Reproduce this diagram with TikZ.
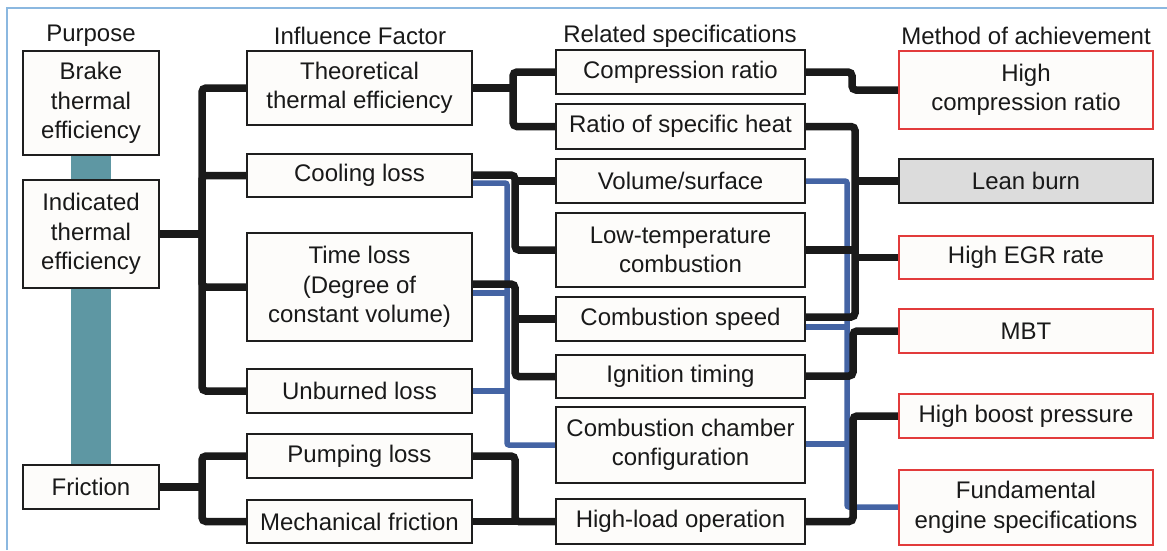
\documentclass[tikz,border=0pt]{standalone}
\usepackage{fontspec}
\setmainfont{Liberation Sans}
\usetikzlibrary{calc}
\definecolor{boxfill}{HTML}{FDFCFA}
\definecolor{boxdraw}{HTML}{1E1E1E}
\definecolor{redb}{HTML}{E23B3B}
\definecolor{leanfill}{HTML}{DCDCDC}
\definecolor{bluel}{HTML}{4464A4}
\definecolor{tealb}{HTML}{5E97A3}
\definecolor{framec}{HTML}{8BB8E0}
\definecolor{blkl}{HTML}{1A1A1A}
\pgfdeclarelayer{bg}
\pgfsetlayers{bg,main}
\tikzset{
  txt/.style={font=\fontsize{24}{29.5}\selectfont, text=black!90},
  box/.style={txt, draw=boxdraw, line width=1.8pt, fill=boxfill, inner sep=0pt, align=center},
  redbox/.style={box, draw=redb},
  c1/.style={box, minimum width=136},
  c2/.style={box, minimum width=225},
  c3/.style={box, minimum width=249},
  c4/.style={redbox, minimum width=254},
  hdr/.style={txt, inner sep=0pt},
  blk/.style={draw=blkl, line width=7.5pt, rounded corners=4pt},
  blu/.style={draw=bluel, line width=5.5pt, rounded corners=2pt},
}
\begin{document}
\begin{tikzpicture}[x=1pt,y=-1pt]
\useasboundingbox (0,0) rectangle (1167,550);
% headers
\node[hdr] (hpur) at (91,36) {Purpose};
\node[hdr] (hinf) at (360,36) {Influence Factor};
\node[hdr] (hrel) at (680,36) {Related specifications};
\node[hdr] (hmet) at (1026,36) {Method of achievement};
% column 1
\node[c1, minimum height=104] (brake) at (91,103) {Brake\\thermal\\efficiency};
\node[c1, minimum height=108] (ind) at (91,234) {Indicated\\thermal\\efficiency};
\node[c1, minimum height=44] (fric) at (91,487) {Friction};
% column 2
\node[c2, minimum height=74] (theo) at (359.5,88) {Theoretical\\thermal efficiency};
\node[c2, minimum height=43] (cool) at (359.5,175.5) {Cooling loss};
\node[c2, minimum height=108] (time) at (359.5,287) {Time loss\\(Degree of\\constant volume)};
\node[c2, minimum height=44] (unb) at (359.5,391) {Unburned loss};
\node[c2, minimum height=44] (pump) at (359.5,456) {Pumping loss};
\node[c2, minimum height=43] (mech) at (359.5,521.5) {Mechanical friction};
% column 3
\node[c3, minimum height=44] (comp) at (680.5,72) {Compression ratio};
\node[c3, minimum height=45] (ratio) at (680.5,126.5) {Ratio of specific heat};
\node[c3, minimum height=44] (vol) at (680.5,181) {Volume/surface};
\node[c3, minimum height=74] (low) at (680.5,250) {Low-temperature\\combustion};
\node[c3, minimum height=44] (speed) at (680.5,319) {Combustion speed};
\node[c3, minimum height=43] (ign) at (680.5,376.5) {Ignition timing};
\node[c3, minimum height=76] (cham) at (680.5,445) {Combustion chamber\\configuration};
\node[c3, minimum height=45] (high) at (680.5,521.5) {High-load operation};
% column 4
\node[c4, minimum height=78] (hcr) at (1026,90) {High\\compression ratio};
\node[box, fill=leanfill, minimum width=254, minimum height=44] (lean) at (1026,181) {Lean burn};
\node[c4, minimum height=43] (egr) at (1026,257.5) {High EGR rate};
\node[c4, minimum height=44] (mbt) at (1026,331) {MBT};
\node[c4, minimum height=44] (boost) at (1026,416) {High boost pressure};
\node[c4, minimum height=75] (fund) at (1026,507.5) {Fundamental\\engine specifications};
% junction coordinates
\coordinate (j1) at (202,234);
\coordinate (j2) at (202,487);
\coordinate (j3) at (513,88);
\coordinate (j4) at (515,175);
\coordinate (j4b) at (515,181);
\coordinate (j5) at (515,284);
\coordinate (j5b) at (515,319);
\coordinate (j6) at (515,456);
\coordinate (b1) at (507,183);
\coordinate (b2) at (507,293);
\coordinate (b3) at (507,391);
\coordinate (k1) at (852,72);
\coordinate (k2) at (855,126.5);
\coordinate (k2b) at (855,317);
\coordinate (k2c) at (855,181);
\coordinate (k2d) at (855,250);
\coordinate (k2e) at (855,257.5);
\coordinate (k3) at (853,376);
\coordinate (k4) at (853,521.5);
\coordinate (m1) at (847,181);
\coordinate (m2) at (847,507);
\coordinate (m3) at (847,327);
\coordinate (m4) at (847,444);
\begin{pgfonlayer}{bg}
% frame
\draw[framec, line width=2pt] (7,550) -- (7,8) -- (1167,8);
% teal bar
\fill[tealb] (71,150) rectangle (111,470);
% blue connectors
\draw[blu] (cool.east |- b1) -- (b1) |- (cham.west);
\draw[blu] (time.east |- b2) -- (b2);
\draw[blu] (unb.east) -- (b3);
\draw[blu] (vol.east) -- (m1) -- (m2) -- (fund.west |- m2);
\draw[blu] (speed.east |- m3) -- (m3);
\draw[blu] (cham.east |- m4) -- (m4);
% black connectors
\draw[blk] (ind.east) -- (j1);
\draw[blk] (j1) |- (theo.west);
\draw[blk] (j1) |- (cool.west);
\draw[blk] (j1) |- (time.west);
\draw[blk] (j1) |- (unb.west);
\draw[blk] (fric.east) -- (j2);
\draw[blk] (j2) |- (pump.west);
\draw[blk] (j2) |- (mech.west);
\draw[blk] (theo.east) -- (j3);
\draw[blk] (j3) |- (comp.west);
\draw[blk] (j3) |- (ratio.west);
\draw[blk] (cool.east |- j4) -- (j4) |- (low.west);
\draw[blk] (j4b) -- (vol.west);
\draw[blk] (time.east |- j5) -- (j5) |- (ign.west);
\draw[blk] (j5b) -- (speed.west);
\draw[blk] (pump.east) -- (j6) |- (high.west);
\draw[blk] (mech.east) -- (high.west);
\draw[blk] (comp.east) -- (k1) |- (hcr.west);
\draw[blk] (ratio.east) -- (k2) -- (k2b) -- (speed.east |- k2b);
\draw[blk] (low.east) -- (k2d);
\draw[blk] (k2c) -- (lean.west);
\draw[blk] (k2e) -- (egr.west);
\draw[blk] (ign.east |- k3) -- (k3) |- (mbt.west);
\draw[blk] (high.east) -- (k4) |- (boost.west);
\end{pgfonlayer}
\end{tikzpicture}
\end{document}
